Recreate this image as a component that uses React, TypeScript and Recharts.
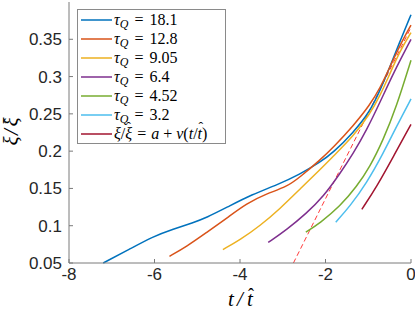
import { LineChart, Line, XAxis, YAxis, Legend } from 'recharts'

const xTicks = [-8, -6, -4, -2, 0]
const yTicks = [0.05, 0.1, 0.15, 0.2, 0.25, 0.3, 0.35]

// tau_Q = 18.1
const tA = [-7.2, -6.6, -6.03, -5.56, -5.1, -4.78, -4.31, -3.72, -3.14, -2.6, -2.13, -1.82, -1.35, -0.96, -0.72, -0.5, -0.26, 0]
const xiA = [0.05, 0.068, 0.0857, 0.0955, 0.104, 0.111, 0.1245, 0.142, 0.1545, 0.169, 0.185, 0.198, 0.225, 0.253, 0.282, 0.312, 0.347, 0.383]
// tau_Q = 12.8
const tB = [-5.65, -5.25, -4.78, -4.31, -3.84, -3.38, -2.91, -2.6, -2.13, -1.82, -1.35, -0.96, -0.72, -0.5, -0.26, 0]
const xiB = [0.059, 0.072, 0.091, 0.11, 0.13, 0.143, 0.152, 0.165, 0.188, 0.205, 0.234, 0.262, 0.285, 0.312, 0.342, 0.369]
// tau_Q = 9.05
const tC = [-4.4, -4.0, -3.53, -3.06, -2.6, -2.13, -1.82, -1.35, -0.96, -0.72, -0.5, -0.26, 0]
const xiC = [0.068, 0.081, 0.1, 0.123, 0.149, 0.175, 0.193, 0.22, 0.25, 0.275, 0.303, 0.334, 0.359]
// tau_Q = 6.4
const tD = [-3.34, -2.91, -2.44, -2.05, -1.66, -1.35, -1.04, -0.72, -0.41, 0]
const xiD = [0.0776, 0.0946, 0.117, 0.139, 0.17, 0.197, 0.228, 0.266, 0.305, 0.35]
// tau_Q = 4.52
const tE = [-2.46, -2.13, -1.66, -1.27, -0.96, -0.65, -0.34, 0]
const xiE = [0.0915, 0.1035, 0.126, 0.1525, 0.179, 0.215, 0.2595, 0.322]
// tau_Q = 3.2
const tF = [-1.76, -1.43, -1.04, -0.65, -0.34, 0]
const xiF = [0.1048, 0.126, 0.157, 0.197, 0.233, 0.27]
// last (dark red) curve
const tG = [-1.15, -0.8, -0.41, 0]
const xiG = [0.122, 0.1525, 0.193, 0.236]
// linear fit a + v(t/t^)
const tFit = [-2.75, 0]
const xiFit = [0.05, 0.366]

const series = [
  { key: 'A', tau: '18.1', color: '#0072BD', t: tA, xi: xiA },
  { key: 'B', tau: '12.8', color: '#D95319', t: tB, xi: xiB },
  { key: 'C', tau: '9.05', color: '#EDB120', t: tC, xi: xiC },
  { key: 'D', tau: '6.4', color: '#7E2F8E', t: tD, xi: xiD },
  { key: 'E', tau: '4.52', color: '#77AC30', t: tE, xi: xiE },
  { key: 'F', tau: '3.2', color: '#4DBEEE', t: tF, xi: xiF },
  { key: 'G', tau: '', color: '#A2142F', t: tG, xi: xiG },
]

const toPoints = (t: number[], xi: number[]) => t.map((v, i) => ({ t: v, xi: xi[i] }))

const serif = "'Liberation Serif', 'Times New Roman', serif"
const sans = "'Liberation Sans', Arial, sans-serif"
const axisGray = '#7a7a7a'
const hat = '\u02C6'

function XTick(props: any) {
  const { x, y, payload } = props
  return (
    <g>
      <line x1={x} y1={y} x2={x} y2={y - 4} stroke={axisGray} />
      <text x={x} y={y + 17} textAnchor="middle" fontFamily={sans} fontSize={17} fill="#262626">
        {payload.value}
      </text>
    </g>
  )
}

function YTick(props: any) {
  const { x, y, payload } = props
  return (
    <g>
      <line x1={x} y1={y} x2={x + 4} y2={y} stroke={axisGray} />
      <text x={x - 7} y={y + 6} textAnchor="end" fontFamily={sans} fontSize={17} fill="#262626">
        {payload.value}
      </text>
    </g>
  )
}

function Hatted({ ch }: { ch: string }) {
  return (
    <span style={{ position: 'relative', display: 'inline-block' }}>
      <i>{ch}</i>
      <span style={{ position: 'absolute', left: 1, top: -5, fontSize: 14 }}>{hat}</span>
    </span>
  )
}

function TauLabel({ tau }: { tau: string }) {
  return (
    <span>
      <i>τ</i>
      <i style={{ fontSize: 12, position: 'relative', top: 3 }}>Q</i>
      <span style={{ margin: '0 6px' }}>=</span>
      {tau}
    </span>
  )
}

function FitLabel() {
  return (
    <span>
      <i>ξ</i>/<Hatted ch="ξ" />
      <span style={{ margin: '0 5px' }}>=</span>
      <i>a</i>
      <span style={{ margin: '0 4px' }}>+</span>
      <i>v</i>(<i>t</i>/<Hatted ch="t" />)
    </span>
  )
}

function LegendBox() {
  return (
    <div
      style={{
        boxSizing: 'border-box',
        width: 149,
        height: 135,
        paddingTop: 1,
        border: '1px solid #8a8a8a',
        background: '#fff',
        fontFamily: serif,
        fontSize: 16,
        color: '#000',
      }}
    >
      {series.map((s) => (
        <div key={s.key} style={{ display: 'flex', alignItems: 'center', height: 18.9, whiteSpace: 'nowrap' }}>
          <svg width={35} height={18} style={{ flex: 'none' }}>
            <line x1={3} y1={9} x2={34} y2={9} stroke={s.color} strokeWidth={1.5} />
          </svg>
          <span style={{ marginLeft: 1, lineHeight: 1, fontFamily: serif }}>
            {s.tau ? <TauLabel tau={s.tau} /> : <FitLabel />}
          </span>
        </div>
      ))}
    </div>
  )
}

function XLabel() {
  return (
    <g fontFamily={serif} fontStyle="italic" fontSize={21} fill="#000" textAnchor="middle">
      <text x={231} y={306}>t</text>
      <text x={240} y={306}>/</text>
      <text x={250} y={306}>t</text>
      <text x={251} y={301} fontStyle="normal" fontSize={18}>{hat}</text>
    </g>
  )
}

function YLabel() {
  return (
    <g transform="translate(18 131) rotate(-90)" fontFamily={serif} fontStyle="italic" fontSize={21} fill="#000" textAnchor="middle">
      <text x={-10} y={0}>ξ</text>
      <text x={-1} y={0}>/</text>
      <text x={9} y={0}>ξ</text>
      <text x={10} y={-3} fontStyle="normal" fontSize={17}>{hat}</text>
    </g>
  )
}

export default function App() {
  return (
    <div style={{ position: 'absolute', left: 0, top: 0, background: '#fff' }}>
      <LineChart width={415} height={314} margin={{ top: 2, right: 4, bottom: 0, left: 0 }}>
        <XAxis
          dataKey="t"
          type="number"
          domain={[-8, 0]}
          ticks={xTicks}
          tick={<XTick />}
          tickSize={0}
          tickMargin={0}
          tickLine={false}
          axisLine={{ stroke: axisGray }}
          height={51}
          label={{ content: () => <XLabel /> }}
        />
        <YAxis
          type="number"
          domain={[0.05, 0.4]}
          ticks={yTicks}
          tick={<YTick />}
          tickSize={0}
          tickMargin={0}
          tickLine={false}
          axisLine={{ stroke: axisGray }}
          width={69}
          label={{ content: () => <YLabel /> }}
        />
        <Legend
          layout="vertical"
          align="center"
          verticalAlign="middle"
          content={() => <LegendBox />}
          wrapperStyle={{ left: 77, top: 9, width: 149, height: 135 }}
        />
        <Line
          data={toPoints(tFit, xiFit)}
          dataKey="xi"
          type="linear"
          stroke="#ff3b3b"
          strokeWidth={1}
          strokeDasharray="5 3"
          dot={false}
          legendType="none"
          isAnimationActive={false}
        />
        {series.map((s) => (
          <Line
            key={s.key}
            data={toPoints(s.t, s.xi)}
            dataKey="xi"
            type="basis"
            stroke={s.color}
            strokeWidth={1.5}
            dot={false}
            isAnimationActive={false}
          />
        ))}
      </LineChart>
    </div>
  )
}
